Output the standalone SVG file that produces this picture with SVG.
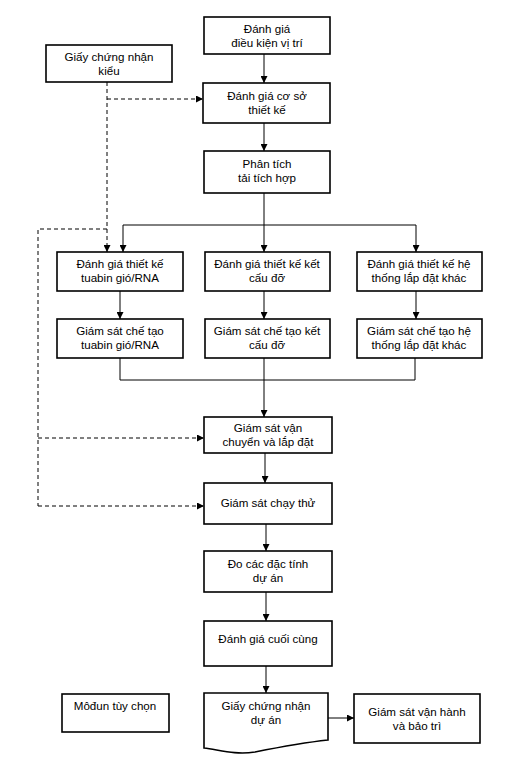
<svg xmlns="http://www.w3.org/2000/svg" width="513" height="761" viewBox="0 0 513 761">
<defs>
<marker id="ah" viewBox="0 0 10 10" refX="10" refY="5" markerWidth="7" markerHeight="7" markerUnits="userSpaceOnUse" orient="auto">
<path d="M0,0 L10,5 L0,10 z" fill="#000"/>
</marker>
<style>
.box{fill:#fff;stroke:#000;stroke-width:1.6}
.t{font-family:"Liberation Sans",Arial,sans-serif;font-size:11.6px;fill:#000;text-anchor:middle}
.c{fill:none;stroke:#000;stroke-width:1}
.d{fill:none;stroke:#000;stroke-width:1;stroke-dasharray:4,3}
</style>
</defs>
<rect width="513" height="761" fill="#fff"/>
<g id="connectors">
<path class="c" d="M264,54 V83" marker-end="url(#ah)"/>
<path class="c" d="M264,123 V151" marker-end="url(#ah)"/>
<path class="c" d="M264,193 V252" marker-end="url(#ah)"/>
<path class="c" d="M123,225 H416"/>
<path class="c" d="M123,225 V252" marker-end="url(#ah)"/>
<path class="c" d="M416,225 V252" marker-end="url(#ah)"/>
<path class="c" d="M120,291 V319" marker-end="url(#ah)"/>
<path class="c" d="M264,291 V319" marker-end="url(#ah)"/>
<path class="c" d="M416,291 V319" marker-end="url(#ah)"/>
<path class="c" d="M120,358 V380 H415 V358"/>
<path class="c" d="M264,358 V417" marker-end="url(#ah)"/>
<path class="c" d="M265,453 V483" marker-end="url(#ah)"/>
<path class="c" d="M266,524 V551" marker-end="url(#ah)"/>
<path class="c" d="M266,592 V621" marker-end="url(#ah)"/>
<path class="c" d="M266,666 V693" marker-end="url(#ah)"/>
<path class="c" d="M328,718 H354" marker-end="url(#ah)"/>
<path class="d" d="M107,82 V252" marker-end="url(#ah)"/>
<path class="d" d="M107,99 H203" marker-end="url(#ah)"/>
<path class="d" d="M107,229 H38 V506"/>
<path class="d" d="M38,438 H204" marker-end="url(#ah)"/>
<path class="d" d="M38,506 H204" marker-end="url(#ah)"/>
</g>
<g id="n1"><rect class="box" x="204" y="17" width="126" height="37"/><text class="t" x="267" y="33">Đánh giá</text><text class="t" x="267" y="47">điều kiện vị trí</text></g>
<g id="n_cert"><rect class="box" x="46" y="45" width="126" height="37"/><text class="t" x="109" y="61">Giấy chứng nhận</text><text class="t" x="109" y="75">kiểu</text></g>
<g id="n2"><rect class="box" x="203" y="83" width="127" height="40"/><text class="t" x="267" y="100">Đánh giá cơ sở</text><text class="t" x="267" y="114">thiết kế</text></g>
<g id="n3"><rect class="box" x="204" y="151" width="126" height="42"/><text class="t" x="267" y="168">Phân tích</text><text class="t" x="267" y="182">tải tích hợp</text></g>
<g id="n4a"><rect class="box" x="57" y="252" width="126" height="39"/><text class="t" x="120" y="268">Đánh giá thiết kế</text><text class="t" x="120" y="282">tuabin gió/RNA</text></g>
<g id="n4b"><rect class="box" x="205" y="252" width="125" height="39"/><text class="t" x="267" y="268">Đánh giá thiết kế kết</text><text class="t" x="267" y="282">cấu đỡ</text></g>
<g id="n4c"><rect class="box" x="357" y="252" width="125" height="39"/><text class="t" x="419" y="268">Đánh giá thiết kế hệ</text><text class="t" x="419" y="282">thống lắp đặt khác</text></g>
<g id="n5a"><rect class="box" x="57" y="319" width="126" height="39"/><text class="t" x="120" y="335">Giám sát chế tạo</text><text class="t" x="120" y="349">tuabin gió/RNA</text></g>
<g id="n5b"><rect class="box" x="205" y="319" width="125" height="39"/><text class="t" x="267" y="335">Giám sát chế tạo kết</text><text class="t" x="267" y="349">cấu đỡ</text></g>
<g id="n5c"><rect class="box" x="357" y="319" width="125" height="39"/><text class="t" x="419" y="335">Giám sát chế tạo hệ</text><text class="t" x="419" y="349">thống lắp đặt khác</text></g>
<g id="n6"><rect class="box" x="204" y="417" width="128" height="36"/><text class="t" x="268" y="432">Giám sát vận</text><text class="t" x="268" y="446">chuyển và lắp đặt</text></g>
<g id="n7"><rect class="box" x="204" y="483" width="128" height="41"/><text class="t" x="268" y="507">Giám sát chạy thử</text></g>
<g id="n8"><rect class="box" x="204" y="551" width="128" height="41"/><text class="t" x="268" y="568">Đo các đặc tính</text><text class="t" x="268" y="582">dự án</text></g>
<g id="n9"><rect class="box" x="204" y="621" width="128" height="45"/><text class="t" x="268" y="643">Đánh giá cuối cùng</text></g>
<g id="n_opt"><rect class="box" x="62" y="694" width="107" height="38"/><text class="t" x="115" y="710">Môđun tùy chọn</text></g>
<g id="n10"><path class="box" d="M204,693 H328 V740 C300,743 275,748 255,752 C235,755 220,750 204,748 Z"/><text class="t" x="266" y="710">Giấy chứng nhận</text><text class="t" x="266" y="724">dự án</text></g>
<g id="n11"><rect class="box" x="354" y="694" width="126" height="49"/><text class="t" x="417" y="716">Giám sát vận hành</text><text class="t" x="417" y="730">và bảo trì</text></g>
</svg>
